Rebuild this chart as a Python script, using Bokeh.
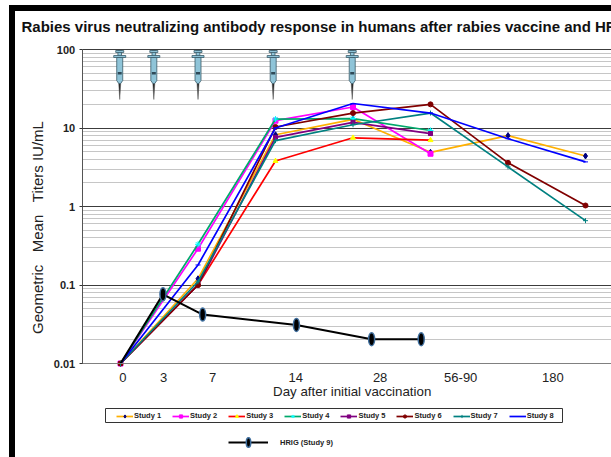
from bokeh.plotting import figure
from bokeh.embed import file_html
from bokeh.resources import INLINE
from bokeh.models import FixedTicker, Legend, LegendItem, Label
from math import pi

title = "Rabies virus neutralizing antibody response in humans after rabies vaccine and HRIG"
x_label = "Day after initial vaccination"
y_label = "Geometric\u00a0\u00a0\u00a0Mean\u00a0\u00a0\u00a0Titers IU/mL"

tick_labels = ["0", "3", "7", "14", "28", "56-90", "180"]
tick_positions = [0.03, 0.555, 1.19, 2.26, 3.35, 4.39, 5.58]
y_ticks = [0.01, 0.1, 1, 10, 100]
y_tick_labels = ["0.01", "0.1", "1", "10", "100"]

visit = [0, 1, 2, 3, 4, 5, 6]
study1 = [0.01, 0.12, 8.2, 12.9, 4.9, 8.0, 4.4]
study2 = [0.01, 0.29, 12.4, 18.5, 4.7]
study3 = [0.01, 0.10, 3.8, 7.5, 7.0]
study4 = [0.01, 0.33, 13.0, 13.2, 9.3]
study5 = [0.01, 0.10, 7.6, 11.8, 8.5]
study6 = [0.01, 0.10, 10.3, 15.5, 20.0, 3.6, 1.03]
study7 = [0.01, 0.11, 6.9, 11.0, 15.5, 3.2, 0.66]
study8 = [0.01, 0.18, 10.0, 20.5, 15.5, 7.3, 3.7]
hrig_x = [0, 0.548, 1.06, 2.27, 3.24, 3.88]
hrig_y = [0.01, 0.076, 0.042, 0.031, 0.0204, 0.0204]
syringe_x = [-0.01, 0.43, 1.0, 1.97, 2.99]

# page-pixel helpers for decoration only
def X(px): return (px - 120) / 77.5
def Y(py): return 10 ** ((363 - py) / 78.5 - 2)

AXL = X(81.7)
p = figure(width=602, height=452, y_axis_type="log",
           x_range=(X(15), X(617)), y_range=(Y(463), Y(11)),
           output_backend="svg", toolbar_location=None,
           min_border=0, outline_line_color=None, background_fill_color="white", border_fill_color=None)
p.margin = (5, 0, 0, 9)
p.styles = {"border-left": "6px solid black", "border-top": "6px solid black"}

p.xgrid.visible = False
p.ygrid.grid_line_color = "#3c3c3c"
p.ygrid.grid_line_width = 1
p.ygrid.minor_grid_line_color = "#c6c6c6"
p.ygrid.minor_grid_line_width = 1
p.ygrid.cross_bounds = (AXL, X(617))

minor = [m * d for d in y_ticks[:-1] for m in range(2, 10)]
p.yaxis.fixed_location = AXL
p.yaxis.bounds = (y_ticks[0], y_ticks[-1])
p.yaxis.ticker = FixedTicker(ticks=y_ticks, minor_ticks=minor)
p.yaxis.major_label_overrides = dict(zip(y_ticks, y_tick_labels))
p.yaxis.major_label_text_font = "Liberation Sans"
p.yaxis.major_label_text_font_size = "11px"
p.yaxis.major_label_text_font_style = "bold"
p.yaxis.major_label_text_color = "#222222"
p.yaxis.major_tick_out = 3
p.yaxis.major_tick_in = 0
p.yaxis.minor_tick_line_color = None
p.yaxis.axis_line_color = "#555555"
p.yaxis.major_tick_line_color = "#333333"
p.yaxis.major_label_standoff = 3

p.xaxis.fixed_location = y_ticks[0]
p.xaxis.bounds = (AXL, X(617))
p.xaxis.ticker = FixedTicker(ticks=tick_positions)
p.xaxis.major_label_overrides = dict(zip(tick_positions, tick_labels))
p.xaxis.major_label_text_font = "Liberation Sans"
p.xaxis.major_label_text_font_size = "13px"
p.xaxis.major_label_text_color = "#222222"
p.xaxis.major_tick_line_color = None
p.xaxis.minor_tick_line_color = None
p.xaxis.axis_line_color = "#808080"
p.xaxis.major_label_standoff = 3

# syringes
for sx in syringe_x:
    cx = sx * 77.5 + 120
    p.patch([X(cx - 1), X(cx + 1), X(cx)], [Y(83), Y(83), Y(99)], fill_color="#222222", line_color="#555555", line_width=0.5)
    p.quad(left=[X(cx - 1.8)], right=[X(cx + 1.8)], top=[Y(50)], bottom=[Y(57)], fill_color="#8fc4d8", line_color="#3a5a68", line_width=0.8)
    p.quad(left=[X(cx - 4)], right=[X(cx + 4)], top=[Y(50)], bottom=[Y(52)], fill_color="#8fc4d8", line_color="#3a5a68", line_width=0.8)
    p.quad(left=[X(cx - 6)], right=[X(cx + 6)], top=[Y(55)], bottom=[Y(57)], fill_color="#8fc4d8", line_color="#3a5a68", line_width=0.8)
    p.patch([X(cx - 3), X(cx + 3), X(cx + 3), X(cx + 1), X(cx - 1), X(cx - 3)],
            [Y(57), Y(57), Y(80), Y(83), Y(83), Y(80)], fill_color="#8fc4d8", line_color="#3a5a68", line_width=0.8)
    p.quad(left=[X(cx - 2)], right=[X(cx + 2)], top=[Y(71.5)], bottom=[Y(74)], fill_color="#2f4a58", line_color=None)

styles = [
    ("Study 1", study1, "#FFB000", "diamond", "#000080", 6),
    ("Study 2", study2, "#FF00FF", "square", "#FF00FF", 5),
    ("Study 3", study3, "#FF0000", "triangle", "#FFFF00", 5),
    ("Study 4", study4, "#00A86B", "asterisk", "#00FFFF", 6),
    ("Study 5", study5, "#800080", "square_x", "#800080", 4),
    ("Study 6", study6, "#800000", "circle", "#800000", 5),
    ("Study 7", study7, "#008080", "cross", "#008080", 5),
    ("Study 8", study8, "#0000FF", "dash", "#0000FF", 5),
]
items = []
for name, vals, color, marker, mcolor, size in styles:
    xs = visit[:len(vals)]
    r1 = p.line(xs, vals, line_color=color, line_width=1.7)
    r2 = p.scatter(xs, vals, marker=marker, size=size, fill_color=mcolor, line_color=mcolor, line_width=1)
    items.append(LegendItem(label=name, renderers=[r1, r2]))

r1 = p.line(hrig_x, hrig_y, line_color="black", line_width=2)
r2 = p.ellipse(hrig_x[1:], hrig_y[1:], width=6, height=13, width_units="screen", height_units="screen",
               fill_color="black", line_color="#3f6f9f", line_width=1.5)

# legend frame
p.quad(left=[X(105)], right=[X(562)], top=[Y(408)], bottom=[Y(422)], fill_color="white", line_color="#333333", line_width=1)

leg = Legend(items=items, orientation="horizontal", location=(101, 43),
             label_text_font="Liberation Sans", label_text_font_size="7.5px", label_text_font_style="bold",
             label_text_color="#222222", glyph_width=17, glyph_height=8, label_standoff=1, spacing=11,
             padding=0, margin=0, border_line_color=None, label_height=8, background_fill_alpha=0)
p.add_layout(leg, "center")

leg2 = Legend(items=[LegendItem(label="HRIG (Study 9)", renderers=[r1, r2])], location=(213, 15),
              label_text_font="Liberation Sans", label_text_font_size="7.5px", label_text_font_style="bold",
              label_text_color="#222222", glyph_width=40, glyph_height=12, label_standoff=12,
              padding=2, margin=0, border_line_color=None, background_fill_alpha=0)
p.add_layout(leg2, "center")

p.add_layout(Label(x=X(21), y=Y(26), text=title, text_align="left", text_baseline="middle",
                   text_font="Liberation Sans", text_font_size="15px", text_font_style="bold", text_color="#111111"))
p.add_layout(Label(x=X(351.7), y=Y(391), text=x_label, text_align="center", text_baseline="middle",
                   text_font="Liberation Sans", text_font_size="13.3px", text_color="#222222"))
p.add_layout(Label(x=X(36.5), y=Y(227), text=y_label, angle=pi / 2, text_align="center", text_baseline="middle",
                   text_font="Liberation Sans", text_font_size="15px", text_color="#222222"))

open("out.html", "w").write(file_html(p, INLINE))
